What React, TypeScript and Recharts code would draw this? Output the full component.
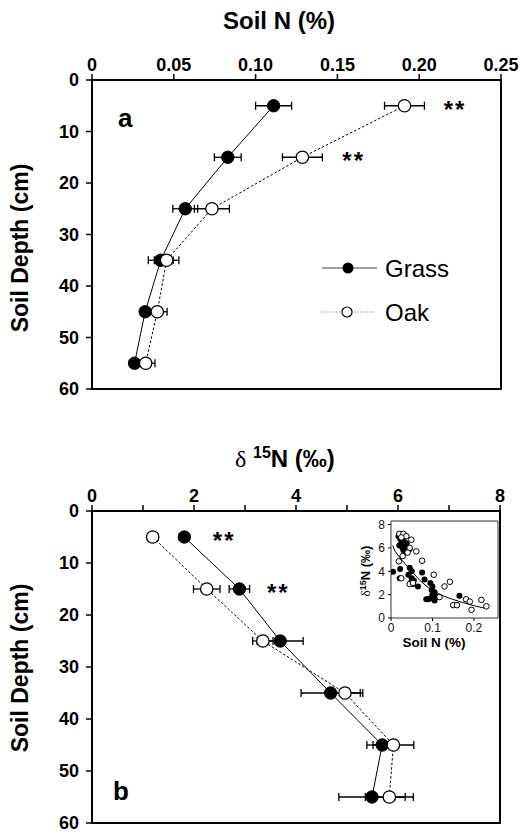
import React from 'react';
import { ScatterChart, Scatter, XAxis, YAxis, ErrorBar, ReferenceArea } from 'recharts';

// ---------- data ----------
const depths = [5, 15, 25, 35, 45, 55];

const grassN = [0.111, 0.083, 0.057, 0.042, 0.0325, 0.026];
const grassNErr = [0.011, 0.0082, 0.0076, 0.0076, 0.0028, 0.003];
const oakN = [0.191, 0.1286, 0.0733, 0.0456, 0.0399, 0.0328];
const oakNErr = [0.0122, 0.0122, 0.0107, 0.0075, 0.006, 0.0057];

const grassD15 = [1.81, 2.89, 3.69, 4.68, 5.69, 5.49];
const grassD15Err = [0.1, 0.2, 0.45, 0.58, 0.3, 0.65];
const oakD15 = [1.19, 2.25, 3.35, 4.96, 5.91, 5.83];
const oakD15Err = [0.1, 0.26, 0.2, 0.35, 0.4, 0.47];

const topXTicks = [0, 0.05, 0.1, 0.15, 0.2, 0.25];
const topXLabels = ['0', '0.05', '0.10', '0.15', '0.20', '0.25'];
const botXTicks = [0, 1, 2, 3, 4, 5, 6, 7, 8];
const botXLabels = ['0', '', '2', '', '4', '', '6', '', '8'];
const depthTicks = [0, 10, 20, 30, 40, 50, 60];

// significance markers (x position where "**" starts, depth)
const starsTopX = [0.215, 0.153];
const starsTopDepth = [5, 15];
const starsBotX = [2.37, 3.43];
const starsBotDepth = [5, 15];

// inset: soil N (%) vs d15N
const insetGrassN = [0.018, 0.022, 0.025, 0.02, 0.028, 0.03, 0.035, 0.04, 0.045, 0.03, 0.024, 0.026, 0.033,
  0.005, 0.022, 0.021, 0.045, 0.05, 0.042, 0.05, 0.055, 0.047, 0.053, 0.065, 0.075, 0.081,
  0.095, 0.1, 0.098, 0.105, 0.1, 0.11, 0.095, 0.09, 0.105, 0.085, 0.165, 0.038];
const insetGrassD = [7.0, 6.8, 6.5, 6.2, 6.0, 5.8, 5.6, 5.7, 5.9, 6.6, 7.1, 6.3, 6.1,
  3.95, 4.2, 3.4, 4.3, 4.0, 3.7, 3.4, 3.2, 3.0, 2.9, 2.7, 3.9, 3.3,
  3.0, 2.7, 2.4, 2.2, 2.0, 1.8, 1.7, 1.6, 1.5, 1.6, 1.9, 6.4];
const insetOakN = [0.02, 0.03, 0.037, 0.025, 0.049, 0.061, 0.075, 0.019, 0.028, 0.025, 0.045, 0.053,
  0.103, 0.129, 0.142, 0.15, 0.159, 0.181, 0.19, 0.194, 0.218, 0.23, 0.117, 0.045, 0.04];
const insetOakD = [7.2, 7.2, 7.0, 6.9, 6.7, 5.7, 4.9, 4.85, 5.3, 3.4, 2.9, 3.0,
  3.7, 2.7, 3.1, 1.1, 1.1, 1.6, 1.4, 0.7, 1.55, 1.0, 1.8, 6.0, 5.6];
const insetFitN = [0.004, 0.01, 0.025, 0.05, 0.07, 0.09, 0.118, 0.14, 0.166, 0.2, 0.225];
const insetFitD = [6.2, 5.7, 5.0, 4.0, 3.2, 2.6, 2.0, 1.7, 1.4, 1.05, 0.85];
const insetXTicks = [0, 0.1, 0.2];
const insetXLabels = ['0', '0.1', '0.2'];
const insetYTicks = [0, 2, 4, 6, 8];

// ---------- helpers ----------
const FONT = 'Liberation Sans, Arial, Helvetica, sans-serif';
const SERIF = 'Liberation Serif, DejaVu Serif, serif';

const mk = (xs: number[], ys: number[], es?: number[]) =>
  xs.map((x, i) => ({ x, y: ys[i], e: es ? es[i] : 0 }));

const topGrass = mk(grassN, depths, grassNErr);
const topOak = mk(oakN, depths, oakNErr);
const botGrass = mk(grassD15, depths, grassD15Err);
const botOak = mk(oakD15, depths, oakD15Err);
const topStars = mk(starsTopX, starsTopDepth);
const botStars = mk(starsBotX, starsBotDepth);
const inGrass = mk(insetGrassN, insetGrassD);
const inOak = mk(insetOakN, insetOakD);
const inFit = mk(insetFitN, insetFitD);

const FilledDot = (p: any) => <circle cx={p.cx} cy={p.cy} r={6.2} fill="#000" stroke="#000" strokeWidth={1} />;
const OpenDot = (p: any) => <circle cx={p.cx} cy={p.cy} r={6.2} fill="#fff" stroke="#000" strokeWidth={1.3} />;
const SmallFilled = (p: any) => <circle cx={p.cx} cy={p.cy} r={3} fill="#000" />;
const SmallOpen = (p: any) => <circle cx={p.cx} cy={p.cy} r={2.8} fill="#fff" stroke="#000" strokeWidth={1} />;
const NoDot = () => <g />;
const Stars = (p: any) => (
  <text x={p.cx} y={p.cy + 12} fontSize={24} fontWeight="bold" fontFamily={FONT} letterSpacing={2} fill="#000">
    **
  </text>
);

const tickStyle = { fontSize: 18, fontWeight: 'bold', fill: '#000', fontFamily: FONT } as any;
const axisLineStyle = { stroke: '#000', strokeWidth: 2 };
const tickLineStyle = { stroke: '#000', strokeWidth: 1.5 };

function DepthPanel(props: {
  grass: any[]; oak: any[]; stars: any[]; domain: [number, number];
  ticks: number[]; labels: string[]; margin: any; height: number;
}) {
  const { grass, oak, stars, domain, ticks, labels, margin, height } = props;
  return (
    <ScatterChart width={532} height={height} margin={margin}>
      <XAxis
        type="number"
        dataKey="x"
        orientation="top"
        domain={domain}
        ticks={ticks}
        interval={0}
        tickFormatter={(v: any, i: number) => labels[i]}
        height={31}
        tickSize={6}
        tickMargin={3}
        axisLine={axisLineStyle}
        tickLine={tickLineStyle}
        tick={tickStyle}
        allowDataOverflow
      />
      <YAxis
        type="number"
        dataKey="y"
        reversed
        domain={[0, 60]}
        ticks={depthTicks}
        interval={0}
        width={40}
        tickSize={6}
        tickMargin={7}
        axisLine={axisLineStyle}
        tickLine={tickLineStyle}
        tick={tickStyle}
        allowDataOverflow
      />
      <ReferenceArea x1={domain[0]} x2={domain[1]} y1={0} y2={60} fill="none" stroke="#000" strokeWidth={2} ifOverflow="visible" />
      <Scatter data={grass} shape={FilledDot} line={{ stroke: '#000', strokeWidth: 1 }} isAnimationActive={false}>
        <ErrorBar dataKey="e" direction="x" width={4} stroke="#000" strokeWidth={1.3} />
      </Scatter>
      <Scatter data={oak} shape={OpenDot} line={{ stroke: '#000', strokeWidth: 1, strokeDasharray: '2.5 2' }} isAnimationActive={false}>
        <ErrorBar dataKey="e" direction="x" width={4} stroke="#000" strokeWidth={1.3} />
      </Scatter>
      <Scatter data={stars} shape={Stars} isAnimationActive={false} />
    </ScatterChart>
  );
}

export default function App() {
  return (
    <div style={{ position: 'absolute', left: 0, top: 0, width: 532, height: 835, background: '#fff', overflow: 'hidden' }}>
      <div style={{ position: 'absolute', left: 0, top: 0 }}>
        <DepthPanel
          grass={topGrass}
          oak={topOak}
          stars={topStars}
          domain={[0, 0.25]}
          ticks={topXTicks}
          labels={topXLabels}
          margin={{ top: 49, right: 31, bottom: 11, left: 52 }}
          height={400}
        />
      </div>
      <div style={{ position: 'absolute', left: 0, top: 400 }}>
        <DepthPanel
          grass={botGrass}
          oak={botOak}
          stars={botStars}
          domain={[0, 8]}
          ticks={botXTicks}
          labels={botXLabels}
          margin={{ top: 80, right: 32, bottom: 12, left: 52 }}
          height={435}
        />
      </div>
      <div style={{ position: 'absolute', left: 340, top: 505 }}>
        <ScatterChart width={170} height={150} margin={{ top: 16, right: 12, bottom: 17, left: 25 }}>
          <XAxis
            type="number"
            dataKey="x"
            domain={[0, 0.258]}
            ticks={insetXTicks}
            interval={0}
            tickFormatter={(v: any, i: number) => insetXLabels[i]}
            height={20}
            tickSize={3}
            tickMargin={2}
            axisLine={false}
            tickLine={{ stroke: '#000' }}
            tick={{ fontSize: 12, fill: '#111', fontFamily: FONT }}
            allowDataOverflow
          />
          <YAxis
            type="number"
            dataKey="y"
            domain={[0, 8.3]}
            ticks={insetYTicks}
            interval={0}
            width={26}
            tickSize={3}
            tickMargin={3}
            axisLine={false}
            tickLine={{ stroke: '#000' }}
            tick={{ fontSize: 12, fill: '#111', fontFamily: FONT }}
            allowDataOverflow
          />
          <ReferenceArea x1={0} x2={0.258} y1={0} y2={8.3} fill="#fff" stroke="#333" strokeWidth={1} ifOverflow="visible" />
          <Scatter data={inGrass} shape={SmallFilled} isAnimationActive={false} />
          <Scatter data={inOak} shape={SmallOpen} isAnimationActive={false} />
          <Scatter data={inFit} shape={NoDot} line={{ stroke: '#000', strokeWidth: 1 }} isAnimationActive={false} />
        </ScatterChart>
      </div>
      <svg width={532} height={835} style={{ position: 'absolute', left: 0, top: 0, pointerEvents: 'none' }}>
        <g fontFamily={FONT} fill="#000">
          <text x={279} y={29} textAnchor="middle" fontSize={24} fontWeight="bold">Soil N (%)</text>
          <text x={235} y={467} fontSize={24}>
            <tspan fontFamily={SERIF}>δ</tspan>
            <tspan> </tspan>
            <tspan fontSize={16} fontWeight="bold" dy={-9}>15</tspan>
            <tspan fontWeight="bold" dy={9}>N (‰)</tspan>
          </text>
          <text transform="translate(28,248) rotate(-90)" textAnchor="middle" fontSize={23} fontWeight="bold">Soil Depth (cm)</text>
          <text transform="translate(28,668) rotate(-90)" textAnchor="middle" fontSize={23} fontWeight="bold">Soil Depth (cm)</text>
          <text x={118} y={127} fontSize={26} fontWeight="bold">a</text>
          <text x={113} y={800} fontSize={26} fontWeight="bold">b</text>
          {/* legend */}
          <line x1={322} x2={377} y1={268} y2={268} stroke="#808080" strokeWidth={1.5} />
          <circle cx={348} cy={268} r={5.5} fill="#000" />
          <text x={385} y={276.5} fontSize={24}>Grass</text>
          <line x1={321} x2={375} y1={312} y2={312} stroke="#999" strokeWidth={1} strokeDasharray="1.5 1.5" />
          <circle cx={347} cy={312} r={5} fill="#fff" stroke="#000" strokeWidth={1.2} />
          <text x={385} y={320.5} fontSize={24}>Oak</text>
          {/* inset labels */}
          <text transform="translate(370,571) rotate(-90)" textAnchor="middle" fontSize={13}>
            <tspan fontFamily={SERIF}>δ</tspan>
            <tspan fontSize={9} fontWeight="bold" dy={-4}>15</tspan>
            <tspan fontWeight="bold" dy={4}>N (‰)</tspan>
          </text>
          <text x={434} y={647} textAnchor="middle" fontSize={13.5} fontWeight="bold">Soil N (%)</text>
        </g>
      </svg>
    </div>
  );
}
